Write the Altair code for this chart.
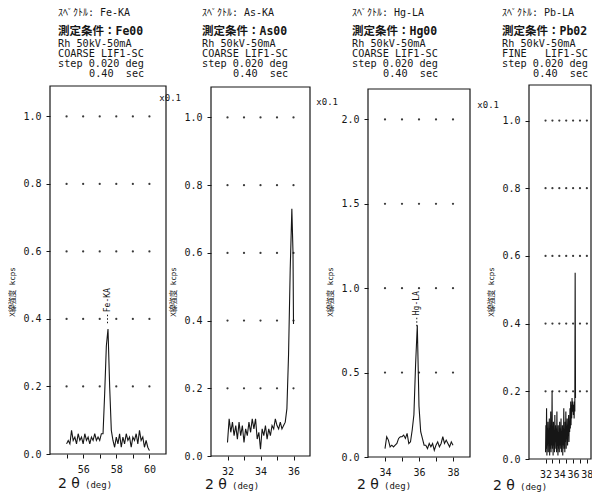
import altair as alt
import pandas as pd

# ---------------- data ----------------
elements = ["Fe-KA", "As-KA", "Hg-LA", "Pb-LA"]
samples = ["Fe00", "As00", "Hg00", "Pb02"]
modes = ["COARSE LIF1-SC", "COARSE LIF1-SC", "COARSE LIF1-SC", "FINE\u00a0\u00a0\u00a0LIF1-SC"]

# Fe-KA, 2theta 55.0 .. 60.0 (0.1 deg)
fe_y = [0.03, 0.04, 0.03, 0.07, 0.04, 0.05, 0.03, 0.06, 0.04, 0.05,
        0.03, 0.06, 0.04, 0.05, 0.03, 0.05, 0.04, 0.06, 0.04, 0.05,
        0.04, 0.06, 0.06, 0.18, 0.32, 0.37, 0.20, 0.07, 0.04, 0.02,
        0.05, 0.03, 0.06, 0.02, 0.05, 0.03, 0.06, 0.04, 0.05, 0.02,
        0.05, 0.04, 0.06, 0.03, 0.07, 0.04, 0.05, 0.02, 0.04, 0.02, 0.01]
fe_x0 = 55.0

# As-KA, 2theta 32.0 .. 35.9 (0.1 deg) + tail
as_y = [0.04, 0.11, 0.07, 0.10, 0.06, 0.09, 0.05, 0.10, 0.06, 0.09,
        0.04, 0.08, 0.06, 0.10, 0.07, 0.11, 0.08, 0.11, 0.05, 0.07,
        0.02, 0.08, 0.06, 0.09, 0.05, 0.08, 0.06, 0.09, 0.08, 0.11,
        0.09, 0.08, 0.10, 0.08, 0.09, 0.10, 0.14, 0.30, 0.55, 0.73]
as_x0 = 32.0
as_tail_x = [35.97, 36.0]
as_tail_y = [0.60, 0.39]

# Hg-LA, 2theta 34.0 .. 38.0 (0.1 deg)
hg_y = [0.05, 0.12, 0.10, 0.06, 0.07, 0.06, 0.07, 0.08, 0.11, 0.12,
        0.12, 0.13, 0.11, 0.14, 0.08, 0.09, 0.16, 0.25, 0.55, 0.78,
        0.30, 0.15, 0.11, 0.07, 0.07, 0.05, 0.08, 0.06, 0.08, 0.04,
        0.07, 0.09, 0.06, 0.08, 0.12, 0.08, 0.10, 0.08, 0.06, 0.09, 0.07]
hg_x0 = 34.0

# Pb-LA, 2theta 32.00 .. 36.35 (0.05 deg)
pb_y = [0.02, 0.10, 0.03, 0.15, 0.01, 0.09, 0.04, 0.11, 0.02, 0.08,
        0.05, 0.12, 0.01, 0.09, 0.03, 0.14, 0.02, 0.10, 0.04, 0.20,
        0.03, 0.09, 0.01, 0.11, 0.04, 0.08, 0.02, 0.13, 0.03, 0.10,
        0.05, 0.09, 0.02, 0.14, 0.04, 0.07, 0.01, 0.10, 0.03, 0.08,
        0.02, 0.11, 0.04, 0.09, 0.03, 0.12, 0.02, 0.08, 0.05, 0.10,
        0.01, 0.09, 0.04, 0.15, 0.03, 0.08, 0.02, 0.11, 0.05, 0.14,
        0.03, 0.09, 0.06, 0.12, 0.04, 0.10, 0.07, 0.13, 0.05, 0.11,
        0.08, 0.15, 0.09, 0.17, 0.10, 0.16, 0.12, 0.18, 0.14, 0.17,
        0.15, 0.13, 0.16, 0.12, 0.17, 0.14, 0.55, 0.18]
pb_x0 = 32.0

# axis ticks
fe_xticks = [55, 56, 57, 58, 59, 60]
as_xticks = [32, 33, 34, 35, 36]
hg_xticks = [34, 35, 36, 37, 38]
pb_xticks = [32, 33, 34, 35, 36, 37, 38]
yticks_1 = [0.0, 0.2, 0.4, 0.6, 0.8, 1.0]
yticks_2 = [0.0, 0.5, 1.0, 1.5, 2.0]

# peak annotations
peak_names = ["Fe-KA", "Hg-LA"]
peak_pos = [57.47, 35.87]

# ---------------- styling / layout ----------------
W, H = 584, 486
INK = "#161616"
MONO = "DejaVu Sans Mono, Noto Sans CJK JP, monospace"


def series(x0, step, ys):
    return [round(x0 + step * i, 3) for i in range(len(ys))]


fe_df = pd.DataFrame({"x": series(fe_x0, 0.1, fe_y), "y": fe_y})
as_df = pd.DataFrame({"x": series(as_x0, 0.1, as_y) + as_tail_x, "y": as_y + as_tail_y})
hg_df = pd.DataFrame({"x": series(hg_x0, 0.1, hg_y), "y": hg_y})
pb_df = pd.DataFrame({"x": series(pb_x0, 0.05, pb_y), "y": pb_y})
for d in (fe_df, as_df, hg_df, pb_df):
    d["i"] = range(len(d))

panels = [
    dict(df=fe_df, xd=[54, 61], xr=[42, 158], yd=[0, 1.09], yr=[446, 78],
         xt=fe_xticks, yt=yticks_1, gy=yticks_1[1:], hx=50, tx=50, ty=476, x01=None),
    dict(df=as_df, xd=[31, 37], xr=[203, 302], yd=[0, 1.09], yr=[448, 79],
         xt=as_xticks, yt=yticks_1, gy=yticks_1[1:], hx=194, tx=197, ty=477, x01=90),
    dict(df=hg_df, xd=[33, 39], xr=[360, 462], yd=[0, 2.18], yr=[449, 81],
         xt=hg_xticks, yt=yticks_2, gy=yticks_2[1:], hx=344, tx=349, ty=477, x01=94),
    dict(df=pb_df, xd=[29.6, 38.6], xr=[521, 583], yd=[0, 1.105], yr=[451, 77],
         xt=pb_xticks, yt=yticks_1, gy=yticks_1[1:], hx=494, tx=485, ty=478, x01=97),
]

layers = []
for k, p in enumerate(panels):
    xs = alt.Scale(domain=p["xd"], range=p["xr"], nice=False, zero=False)
    ys = alt.Scale(domain=p["yd"], range=p["yr"], nice=False, zero=False)

    # frame
    frame_df = pd.DataFrame({"x0": [p["xd"][0]], "x1": [p["xd"][1]],
                             "y0": [p["yd"][0]], "y1": [p["yd"][1]]})
    layers.append(alt.Chart(frame_df).mark_rect(fillOpacity=0, stroke=INK, strokeWidth=1.2).encode(
        x=alt.X("x0:Q", scale=xs, axis=None), x2="x1:Q",
        y=alt.Y("y0:Q", scale=ys, axis=None), y2="y1:Q"))

    # dotted grid
    gd = pd.DataFrame([(gx, gy) for gx in p["xt"] for gy in p["gy"]], columns=["gx", "gy"])
    layers.append(alt.Chart(gd).mark_circle(size=5, color=INK, opacity=0.85).encode(
        x=alt.X("gx:Q", scale=xs, axis=None), y=alt.Y("gy:Q", scale=ys, axis=None)))

    # spectrum line with axes
    xaxis = alt.Axis(orient="bottom", offset=p["yr"][0] - H, values=p["xt"], format="d",
                     labelExpr="datum.value % 2 == 0 ? datum.label : ''",
                     tickSize=4, labelPadding=6, domain=False, grid=False, title=None,
                     labelFont=MONO, labelFontSize=10, labelColor=INK, tickColor=INK)
    yaxis = alt.Axis(orient="left", offset=-p["xr"][0], values=p["yt"], format=".1f",
                     tickSize=4, labelPadding=5, domain=False, grid=False, title=None,
                     labelFont=MONO, labelFontSize=10, labelColor=INK, tickColor=INK)
    layers.append(alt.Chart(p["df"]).mark_line(color=INK, strokeWidth=1.1).encode(
        x=alt.X("x:Q", scale=xs, axis=xaxis),
        y=alt.Y("y:Q", scale=ys, axis=yaxis),
        order="i:Q"))

    # peak annotation
    if elements[k] in peak_names:
        j = peak_names.index(elements[k])
        top = p["yd"][1]
        ann_y = 0.42 if k == 0 else 0.84
        ann = pd.DataFrame({"x": [peak_pos[j]], "y": [ann_y], "t": [peak_names[j]],
                            "y0": [ann_y - 0.03 * top], "y1": [ann_y - 0.002 * top]})
        layers.append(alt.Chart(ann).mark_text(angle=270, align="left", baseline="middle",
                                               font=MONO, fontSize=8, color=INK).encode(
            x=alt.X("x:Q", scale=xs, axis=None), y=alt.Y("y:Q", scale=ys, axis=None), text="t:N"))
        layers.append(alt.Chart(ann).mark_rule(color=INK, strokeDash=[1.5, 2], strokeWidth=1).encode(
            x=alt.X("x:Q", scale=xs, axis=None), y=alt.Y("y0:Q", scale=ys, axis=None), y2="y1:Q"))

    # header text
    hdr1 = pd.DataFrame({"t": ["ｽﾍﾟｸﾄﾙ: " + elements[k]]})
    layers.append(alt.Chart(hdr1).mark_text(align="left", baseline="middle", font=MONO,
                                            fontSize=10, color=INK).encode(
        x=alt.value(p["hx"]), y=alt.value(5), text="t:N"))
    hdr2 = pd.DataFrame({"t": ["測定条件：" + samples[k]]})
    layers.append(alt.Chart(hdr2).mark_text(align="left", baseline="middle", font=MONO,
                                            fontSize=11.5, fontWeight="bold", color=INK).encode(
        x=alt.value(p["hx"]), y=alt.value(24), text="t:N"))
    body = ["Rh 50kV-50mA", modes[k], "step 0.020 deg"]
    for li, line in enumerate(body):
        hdf = pd.DataFrame({"t": [line]})
        layers.append(alt.Chart(hdf).mark_text(align="left", baseline="middle", font=MONO,
                                               fontSize=10.2, color=INK).encode(
            x=alt.value(p["hx"]), y=alt.value(35.5 + 10 * li), text="t:N"))
    hdf = pd.DataFrame({"t": ["0.40\u00a0\u00a0sec"]})
    layers.append(alt.Chart(hdf).mark_text(align="left", baseline="middle", font=MONO,
                                           fontSize=10.2, color=INK).encode(
        x=alt.value(p["hx"] + 31), y=alt.value(65.5), text="t:N"))

    # y title
    yt_df = pd.DataFrame({"t": ["X線強度 kcps"]})
    layers.append(alt.Chart(yt_df).mark_text(angle=270, align="center", baseline="middle",
                                             font=MONO, fontSize=7.5, color=INK).encode(
        x=alt.value(p["xr"][0] - 37), y=alt.value(284), text="t:N"))

    # x title
    xt1 = pd.DataFrame({"t": ["2 θ"]})
    layers.append(alt.Chart(xt1).mark_text(align="left", baseline="middle", font="DejaVu Sans",
                                           fontSize=14, color=INK).encode(
        x=alt.value(p["tx"]), y=alt.value(p["ty"]), text="t:N"))
    xt2 = pd.DataFrame({"t": ["(deg)"]})
    layers.append(alt.Chart(xt2).mark_text(align="left", baseline="middle", font=MONO,
                                           fontSize=9, color=INK).encode(
        x=alt.value(p["tx"] + 27), y=alt.value(p["ty"] + 1), text="t:N"))

    # x0.1 multiplier
    if p["x01"] is not None:
        m = pd.DataFrame({"t": ["x0.1"]})
        layers.append(alt.Chart(m).mark_text(align="right", baseline="middle", font=MONO,
                                             fontSize=9, color=INK).encode(
            x=alt.value(p["xr"][0] - 30), y=alt.value(p["x01"]), text="t:N"))

chart = alt.layer(*layers).resolve_scale(x="independent", y="independent").resolve_axis(
    x="independent", y="independent").properties(
    width=W, height=H, padding=0, autosize=alt.AutoSizeParams(type="none"),
    background="white").configure_view(stroke=None)

chart.save("out.html", embed_options={"renderer": "svg", "actions": False})
